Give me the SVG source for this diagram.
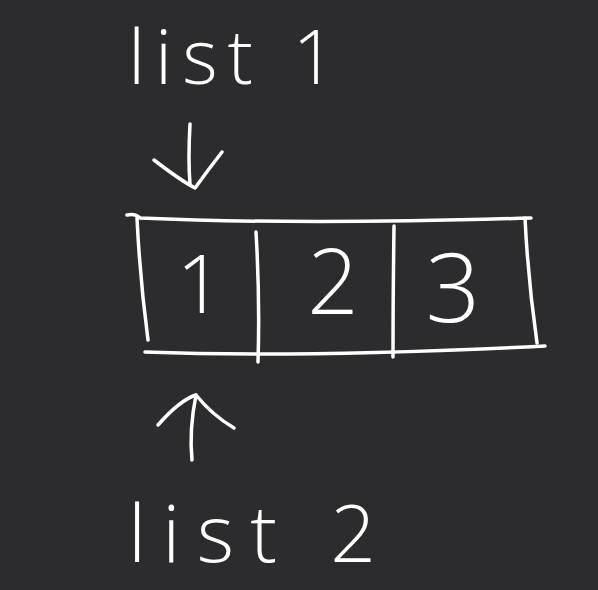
<svg xmlns="http://www.w3.org/2000/svg" width="598" height="590" viewBox="0 0 598 590">
<style>
.bg{fill:#2c2c2e}
.ln{fill:none;stroke:#ffffff;stroke-width:3.5;stroke-linecap:round;stroke-linejoin:round}
.lbl{fill:#ffffff;font-family:"Open Sans","Liberation Sans",sans-serif;font-weight:300}
</style>
<rect class="bg" x="0" y="0" width="598" height="590"/>
<g id="list1">
<text class="lbl" x="128" y="84" font-size="76" textLength="208" lengthAdjust="spacing">list 1</text>
</g>
<g id="array">
<path class="ln" d="M127,215 Q135,213 140,218 Q300,225 531,218"/>
<path class="ln" d="M137,218 Q140,280 148,340"/>
<path class="ln" d="M145,352 Q300,358 545,346"/>
<path class="ln" d="M525,218 Q528,280 537,343"/>
<path class="ln" d="M256,232 Q260,300 258,362"/>
<path class="ln" d="M394,226 Q393,300 393,357"/>
<text class="lbl" x="200" y="313" font-size="82" text-anchor="middle">1</text>
<text class="lbl" x="333" y="314" font-size="90" text-anchor="middle">2</text>
<text class="lbl" x="453" y="322" font-size="96" text-anchor="middle">3</text>
</g>
<g id="list2">
<text class="lbl" x="128" y="562" font-size="80" textLength="248" lengthAdjust="spacing">list 2</text>
</g>
<g id="connectors">
<path class="ln" d="M190,124 Q188,160 190,184"/>
<path class="ln" d="M154,160 Q180,180 195,188 Q208,170 222,152"/>
<path class="ln" d="M192,460 Q189,430 196,395"/>
<path class="ln" d="M158,425 Q180,400 196,395 Q212,415 234,428"/>
</g>
</svg>
